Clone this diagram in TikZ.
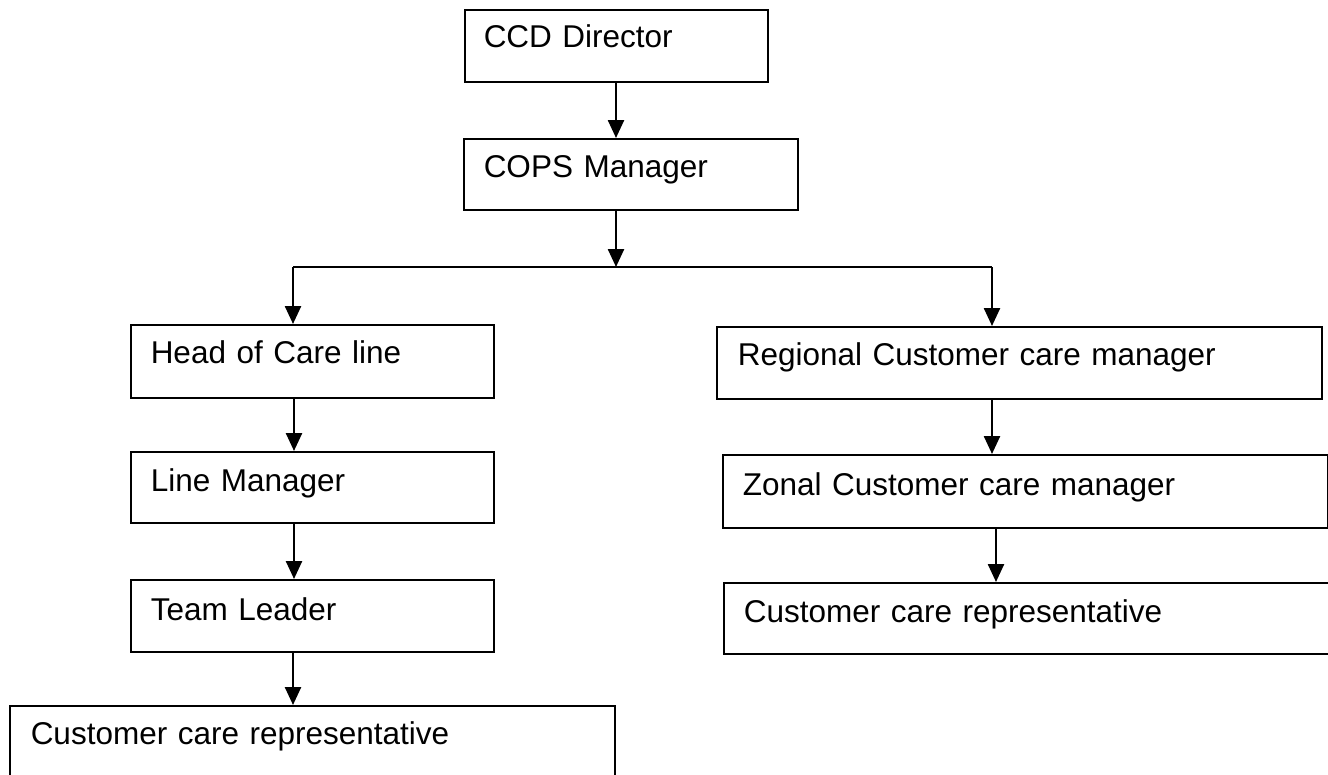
\documentclass[tikz,border=0pt]{standalone}
\usepackage{fontspec}
\setmainfont{Liberation Sans}
\usetikzlibrary{arrows.meta}
\begin{document}
\begin{tikzpicture}[x=1pt,y=1pt,
  box/.style={draw, line width=1.5pt, inner ysep=0pt, align=left, anchor=north west,
    font=\fontsize{31.5}{38}\selectfont},
  arr/.style={line width=2.5pt, -{Triangle[width=16pt,length=18pt]}},
  conn/.style={line width=2pt}]
\useasboundingbox (0,0) rectangle (1328,-774);
\fill[white] (0,0) rectangle (1328,-774);
% boxes
\node[box, inner xsep=19pt, text width=265pt, text height=38pt, text depth=34pt] (ccd) at (464,-9) {CCD Director};
\node[box, inner xsep=20pt, text width=294pt, text height=39pt, text depth=32pt] (cops) at (463,-138) {COPS Manager};
\node[box, inner xsep=20pt, text width=323pt, text height=39pt, text depth=34pt] (head) at (130,-324) {Head of Care line};
\node[box, inner xsep=20pt, text width=323pt, text height=40pt, text depth=31pt] (line) at (130,-451) {Line Manager};
\node[box, inner xsep=20pt, text width=323pt, text height=41pt, text depth=31pt] (team) at (130,-579) {Team Leader};
\node[box, inner xsep=21pt, text width=563pt, text height=39pt, text depth=61pt] (ccrl) at (9,-705) {Customer care representative};
\node[box, inner xsep=21pt, text width=563pt, text height=39pt, text depth=33pt] (reg) at (716,-326) {Regional Customer care manager};
\node[box, inner xsep=20pt, text width=565pt, text height=41pt, text depth=32pt] (zon) at (722,-454) {Zonal Customer care manager};
\node[box, inner xsep=20pt, text width=580pt, text height=40pt, text depth=31pt] (ccrr) at (723,-582) {Customer care representative};
% junction coordinates
\coordinate (cx) at (616,0);
\coordinate (jc) at (616,-267);
\coordinate (jl) at (293,-267);
\coordinate (jr) at (992,-267);
\coordinate (lx) at (294,0);
\coordinate (rx) at (996,0);
% connectors
\draw[arr] (cx |- ccd.south) -- (cx |- cops.north);
\draw[arr] (cx |- cops.south) -- (jc);
\draw[conn] (jl) -- (jr);
\draw[arr] (jl) -- (jl |- head.north);
\draw[arr] (jr) -- (jr |- reg.north);
\draw[arr] (lx |- head.south) -- (lx |- line.north);
\draw[arr] (lx |- line.south) -- (lx |- team.north);
\draw[arr] (jl |- team.south) -- (jl |- ccrl.north);
\draw[arr] (jr |- reg.south) -- (jr |- zon.north);
\draw[arr] (rx |- zon.south) -- (rx |- ccrr.north);
\end{tikzpicture}
\end{document}
